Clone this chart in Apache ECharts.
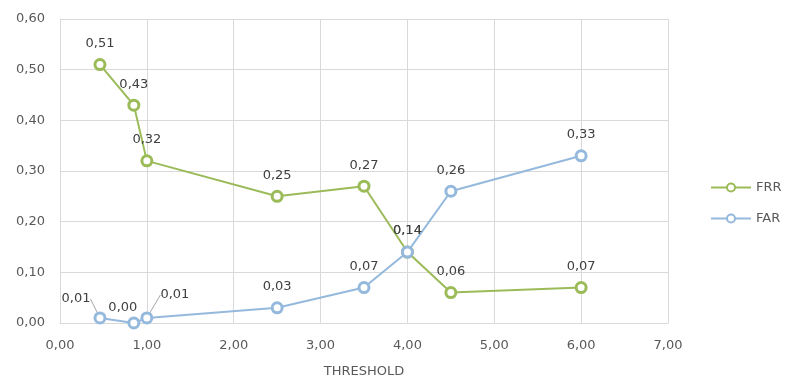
<!DOCTYPE html>
<html>
<head>
<meta charset="utf-8">
<script src="https://cdn.jsdelivr.net/npm/echarts@6/dist/echarts.min.js"></script>
<style>
  html, body { margin: 0; padding: 0; background: #fff; }
  #chart { width: 785px; height: 383px; }
</style>
</head>
<body>
<div id="chart"></div>
<script>
// Threshold values shared by both rate curves
const thresholds = [0.46, 0.85, 1.0, 2.5, 3.5, 4.0, 4.5, 6.0];
// False rejection rate
const frr = [0.51, 0.43, 0.32, 0.25, 0.27, 0.14, 0.06, 0.07];
// False acceptance rate
const far = [0.01, 0.00, 0.01, 0.03, 0.07, 0.14, 0.26, 0.33];
const seriesNames = ['FRR', 'FAR'];

const FONT = 'DejaVu Sans';
const fmt = v => Number(v).toFixed(2).replace('.', ',');

// Per-point label nudges for the crowded low FAR values;
// "line" marks the ones that get a leader line back to the point
const farShift = {
  0: { dx: -24, dy: 2, line: true },
  1: { dx: -11, dy: 6, line: false },
  2: { dx: 28, dy: -2, line: true }
};

function points(ys, shift) {
  return thresholds.map((x, i) => {
    const s = shift && shift[i];
    return {
      value: [x, ys[i]],
      labelLine: { show: !!(s && s.line) }
    };
  });
}

const chart = echarts.init(document.getElementById('chart'), null, { renderer: 'canvas' });

function lineSeries(name, ys, color, shift) {
  return {
    name: name,
    type: 'line',
    data: points(ys, shift),
    symbol: 'circle',
    symbolSize: 10,
    showAllSymbol: true,
    lineStyle: { color: color, width: 2 },
    itemStyle: { color: '#ffffff', borderColor: color, borderWidth: 3 },
    label: {
      show: true,
      position: 'top',
      distance: 8,
      color: '#404040',
      fontFamily: FONT,
      fontSize: 13,
      formatter: p => fmt(p.value[1])
    },
    labelLine: { show: false, lineStyle: { color: '#a6a6a6', width: 1 } },
    labelLayout: shift ? function (params) {
      const s = shift[params.dataIndex];
      return s ? { dx: s.dx, dy: s.dy } : {};
    } : undefined,
    emphasis: { disabled: true },
    z: 3
  };
}

chart.setOption({
  animation: false,
  backgroundColor: '#ffffff',
  grid: { left: 60, right: 117, top: 19, bottom: 56, containLabel: false },
  legend: {
    orient: 'vertical',
    left: 710,
    top: 181,
    padding: 0,
    itemWidth: 40,
    itemHeight: 10,
    itemGap: 18,
    data: seriesNames,
    textStyle: { color: '#595959', fontFamily: FONT, fontSize: 13 }
  },
  xAxis: {
    type: 'value',
    min: 0,
    max: 7,
    interval: 1,
    name: 'THRESHOLD',
    nameLocation: 'middle',
    nameGap: 42,
    nameTextStyle: { color: '#595959', fontFamily: FONT, fontSize: 13 },
    axisLine: { show: true, lineStyle: { color: '#d9d9d9' } },
    axisTick: { show: false },
    splitLine: { show: true, lineStyle: { color: '#d9d9d9' } },
    axisLabel: { color: '#595959', fontFamily: FONT, fontSize: 13, margin: 16, formatter: fmt }
  },
  yAxis: {
    type: 'value',
    min: 0,
    max: 0.6,
    interval: 0.1,
    axisLine: { show: true, lineStyle: { color: '#d9d9d9' } },
    axisTick: { show: false },
    splitLine: { show: true, lineStyle: { color: '#d9d9d9' } },
    axisLabel: { color: '#595959', fontFamily: FONT, fontSize: 13, margin: 15, formatter: fmt }
  },
  series: [
    lineSeries(seriesNames[0], frr, '#9bbb59', null),
    lineSeries(seriesNames[1], far, '#95b9dc', farShift)
  ]
});
</script>
</body>
</html>
